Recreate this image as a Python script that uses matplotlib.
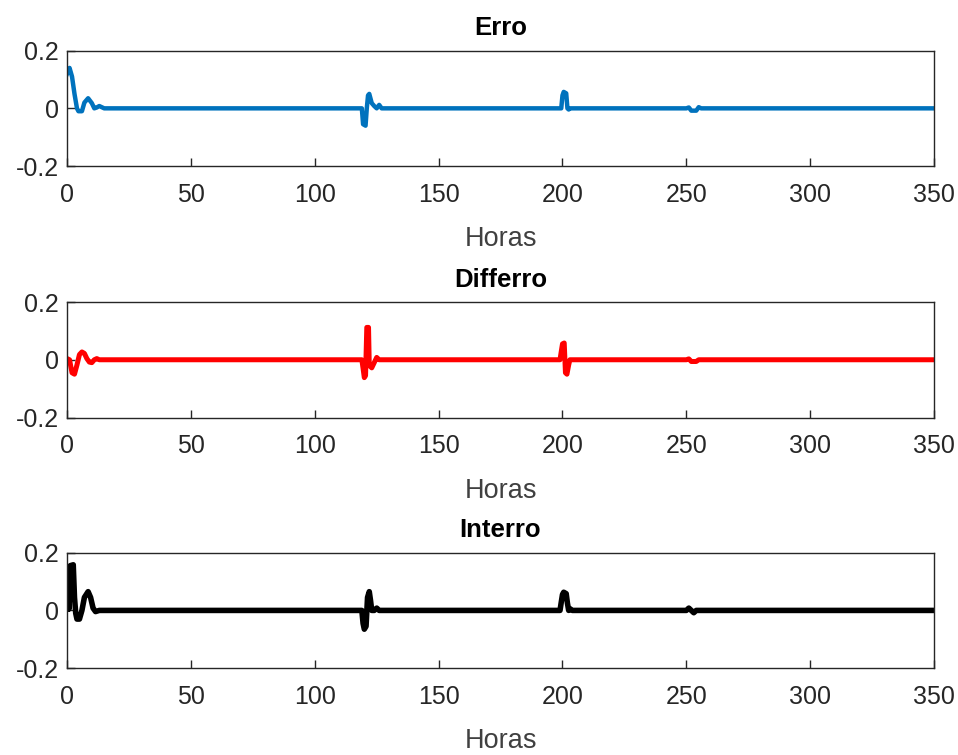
import matplotlib

matplotlib.use("Agg")

import matplotlib.pyplot as plt
from matplotlib.ticker import FuncFormatter

# Erro (blue)
erro_h = [0, 1, 2, 3, 4, 4.6, 6, 7, 8.5, 10, 11, 12, 13, 14, 15,
          119, 119.5, 120.5, 121, 121.5, 122, 123, 124, 125, 126, 127,
          199.5, 200, 200.5, 201.5, 202, 202.5, 203,
          250, 251, 252, 254, 255, 256, 350]
erro_v = [0.12, 0.14, 0.11, 0.05, 0.0, -0.01, -0.01, 0.02, 0.035, 0.018, 0.0, 0.003, 0.008, 0.004, 0.0,
          0.0, -0.055, -0.06, 0.0, 0.045, 0.05, 0.018, 0.008, 0.0, 0.012, 0.0,
          0.0, 0.045, 0.057, 0.052, 0.0, -0.004, 0.0,
          0.0, 0.003, -0.008, -0.008, 0.004, 0.0, 0.0]

# Differro (red)
differro_h = [0, 1, 2, 3, 4, 5, 6, 7, 8, 9, 10, 11, 12, 13,
              119, 119.5, 120, 120.5, 121, 121.7, 122, 123, 124, 125, 126,
              199, 199.5, 200, 200.7, 201.2, 201.8, 202.5, 203,
              250, 251, 252, 254, 255, 350]
differro_v = [0.004, 0.0, -0.045, -0.05, -0.018, 0.018, 0.027, 0.022, 0.004, -0.008, -0.01, 0.0, 0.004, 0.0,
              0.0, -0.03, -0.062, -0.055, 0.112, 0.112, -0.02, -0.028, -0.01, 0.008, 0.0,
              0.0, 0.028, 0.055, 0.058, -0.045, -0.05, -0.018, 0.0,
              0.0, 0.003, -0.006, -0.006, 0.0, 0.0]

# Interro (black)
interro_h = [0, 0.3, 0.8, 1.3, 2.5, 3, 3.5, 4, 5, 6, 7, 8.5, 9.5, 10.5, 11.5, 13,
             119, 119.5, 120, 120.7, 121.3, 122, 122.5, 123, 124, 125, 126,
             199, 199.5, 200, 200.5, 201.5, 202, 202.5, 203, 204,
             250, 251, 252, 253, 254, 256, 350]
interro_v = [0.005, 0.03, 0.005, 0.155, 0.158, 0.045, -0.01, -0.03, -0.03, 0.0, 0.045, 0.065, 0.045, 0.008, -0.004, 0.0,
             0.0, -0.045, -0.065, -0.055, 0.045, 0.065, 0.035, 0.0, 0.0, 0.008, 0.0,
             0.0, 0.028, 0.055, 0.063, 0.058, 0.025, 0.0, 0.006, 0.0,
             0.0, 0.008, 0.0, -0.008, 0.0, 0.0, 0.0]

titles = ["Erro", "Differro", "Interro"]
colors = ["#0072BD", "#FF0000", "#000000"]
widths = [3.2, 3.6, 4.0]
x_label = "Horas"
x_ticks = [0, 50, 100, 150, 200, 250, 300, 350]
y_ticks = [-0.2, 0, 0.2]

plt.rcParams["font.family"] = ["Liberation Sans", "DejaVu Sans"]
text_color = "#262626"

fig = plt.figure(figsize=(9.58, 7.55), dpi=100)
bottoms = [0.780, 0.447, 0.115]
series = [(erro_h, erro_v), (differro_h, differro_v), (interro_h, interro_v)]

for idx, (hours, values) in enumerate(series):
    ax = fig.add_axes([0.070, bottoms[idx], 0.905, 0.153])
    ax.plot(hours, values, color=colors[idx], linewidth=widths[idx])
    ax.set_xlim(0, 350)
    ax.set_ylim(-0.2, 0.2)
    ax.set_xticks(x_ticks)
    ax.set_yticks(y_ticks)
    ax.yaxis.set_major_formatter(FuncFormatter(lambda v, _: "0" if abs(v) < 1e-9 else f"{v:.1f}"))
    ax.tick_params(axis="x", direction="in", length=6, width=1.0, labelsize=18,
                   colors=text_color, pad=12)
    ax.tick_params(axis="y", direction="in", length=6, width=1.0, labelsize=18,
                   colors=text_color, pad=6)
    for spine in ax.spines.values():
        spine.set_color(text_color)
        spine.set_linewidth(1.0)
    ax.set_xlabel(x_label, fontsize=19.5, color="#404040", labelpad=14)
    ax.set_title(titles[idx], fontsize=18.5, fontweight="bold", color="black", pad=11)

fig.savefig("out.png", dpi=100)
plt.close(fig)
